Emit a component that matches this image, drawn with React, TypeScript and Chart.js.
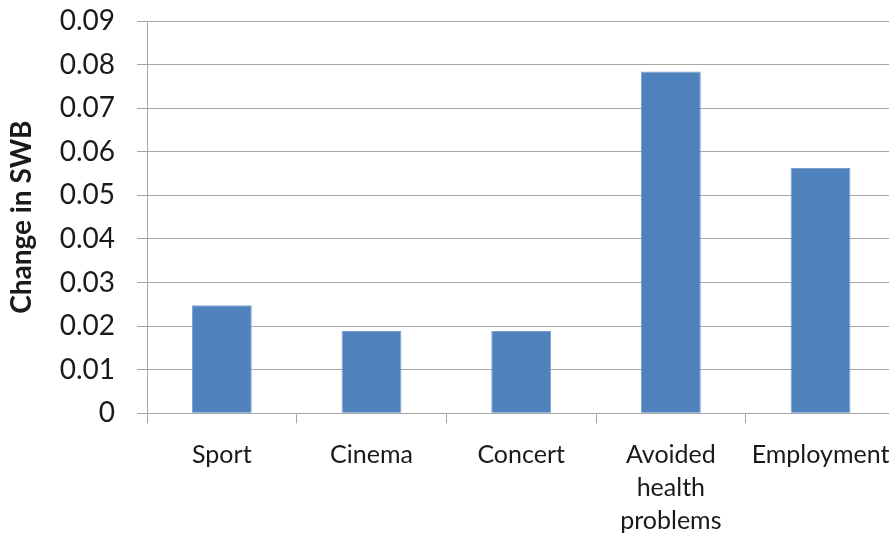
import React, { useEffect, useRef } from "react";
import { Chart, registerables } from "chart.js";

Chart.register(...registerables);

// Change in subjective well-being by activity
const categories: (string | string[])[] = [
  "Sport",
  "Cinema",
  "Concert",
  ["Avoided", "health", "problems"],
  "Employment",
];
const swbChange: number[] = [0.0248, 0.0189, 0.0189, 0.0784, 0.0563];
const yTickMax = 0.09;
const yTickStep = 0.01;

const FONT = "Lato, 'Open Sans', sans-serif";
const GRID = "#a6a6a6";
const TEXT = "#1a1a1a";

export default function App() {
  const canvasRef = useRef<HTMLCanvasElement | null>(null);

  useEffect(() => {
    const canvas = canvasRef.current;
    if (!canvas) return;
    const chart = new Chart(canvas, {
      type: "bar",
      data: {
        labels: categories,
        datasets: [
          {
            label: "Change in SWB",
            data: swbChange,
            backgroundColor: "#4f81bd",
            borderColor: "#7a9fcf",
            borderWidth: 1,
            categoryPercentage: 1,
            barPercentage: 0.4,
          },
        ],
      },
      options: {
        responsive: false,
        animation: false,
        layout: { padding: { top: 21, right: 6, left: 0, bottom: 0 } },
        plugins: {
          legend: { display: false },
          tooltip: { enabled: false },
        },
        scales: {
          x: {
            offset: true,
            grid: {
              offset: true,
              drawOnChartArea: false,
              drawTicks: true,
              tickLength: 10,
              color: GRID,
            },
            border: { color: GRID, width: 1 },
            ticks: {
              color: TEXT,
              font: { family: FONT, size: 25, lineHeight: 1.32 },
              padding: 15,
              maxRotation: 0,
              autoSkip: false,
            },
            afterFit: (scale: any) => {
              scale.height = 122.7;
            },
          },
          y: {
            min: 0,
            max: yTickMax,
            grid: {
              color: GRID,
              lineWidth: 1,
              tickLength: 10,
            },
            border: { color: GRID, width: 1 },
            ticks: {
              stepSize: yTickStep,
              color: TEXT,
              font: { family: FONT, size: 28 },
              padding: 22,
              callback: (v: any) => {
                const n = Number(v);
                return n === 0 ? "0" : n.toFixed(2);
              },
            },
            title: {
              display: true,
              text: "Change in SWB",
              color: TEXT,
              font: { family: FONT, size: 28, weight: "bold" },
              padding: { top: 5, bottom: 0 },
            },
            afterFit: (scale: any) => {
              scale.width = 147;
              // let the layout padding alone set the plot's top edge
              scale.paddingTop = 0;
              scale.paddingBottom = 0;
            },
          },
        },
      },
    });
    return () => chart.destroy();
  }, []);

  return (
    <div
      style={{
        position: "fixed",
        left: 0,
        top: 0,
        width: 905,
        height: 536,
        background: "#ffffff",
      }}
    >
      <canvas ref={canvasRef} width={905} height={536} />
    </div>
  );
}
